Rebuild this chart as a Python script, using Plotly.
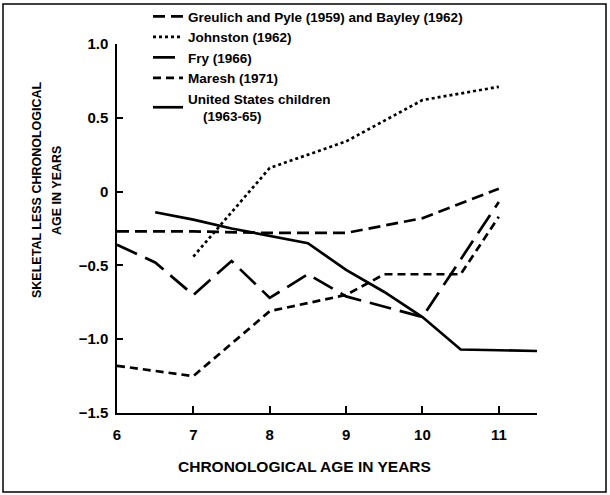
import plotly.graph_objects as go

# ---- data ----
greulich_x = [6, 7, 8, 9, 10, 11]
greulich_y = [-0.27, -0.27, -0.28, -0.28, -0.18, 0.02]

johnston_x = [7, 8, 9, 10, 11]
johnston_y = [-0.44, 0.16, 0.34, 0.62, 0.71]

fry_x = [6, 6.5, 7, 7.5, 8, 8.5, 9, 10, 11]
fry_y = [-0.36, -0.48, -0.70, -0.47, -0.72, -0.56, -0.71, -0.85, -0.07]

maresh_x = [6, 7, 8, 9, 9.5, 10, 10.5, 11]
maresh_y = [-1.18, -1.25, -0.81, -0.70, -0.56, -0.56, -0.56, -0.17]

us_x = [6.5, 7, 7.5, 8, 8.5, 9, 9.5, 10, 10.5, 11, 11.5]
us_y = [-0.14, -0.19, -0.25, -0.30, -0.35, -0.53, -0.68, -0.85, -1.07, -1.075, -1.08]

x_ticks = [6, 7, 8, 9, 10, 11]
y_ticks = [1.0, 0.5, 0, -0.5, -1.0, -1.5]
y_tick_text = ["1.0", "0.5", "0", "\u22120.5", "\u22121.0", "\u22121.5"]

FONT = "Liberation Sans, Arial, sans-serif"

fig = go.Figure()
series = [
    ("Greulich and Pyle (1959) and Bayley (1962)", greulich_x, greulich_y, "12px,6px"),
    ("Johnston (1962)", johnston_x, johnston_y, "dot"),
    ("Fry (1966)", fry_x, fry_y, "22px,9px"),
    ("Maresh (1971)", maresh_x, maresh_y, "8px,5px"),
    ("United States children<br>\u00a0\u00a0\u00a0\u00a0(1963-65)", us_x, us_y, "solid"),
]
for name, xs, ys, dash in series:
    fig.add_trace(go.Scatter(
        x=xs, y=ys, mode="lines", name=name,
        line=dict(color="black", width=2.7, dash=dash),
    ))

L, R, T, B = 117, 73, 44, 82
W, H = 610, 495
pw, ph = W - L - R, H - T - B

def px_x(p):
    return (p - L) / pw

def px_y(p):
    return (H - B - p) / ph

fig.update_layout(
    width=W, height=H,
    margin=dict(l=L, r=R, t=T, b=B, autoexpand=False),
    paper_bgcolor="white", plot_bgcolor="white",
    font=dict(family=FONT, color="black", size=14),
    showlegend=True,
    legend=dict(
        xref="paper", yref="container",
        x=px_x(148), y=1.0 - 1.0 / H, xanchor="left", yanchor="top",
        bgcolor="rgba(0,0,0,0)", borderwidth=0,
        font=dict(family=FONT, size=13.5, color="black", weight="bold"),
        itemwidth=30, tracegroupgap=0,
    ),
    xaxis=dict(
        range=[6, 11.5], tickvals=x_ticks, ticktext=[str(v) for v in x_ticks],
        showline=True, linecolor="black", linewidth=1.5,
        ticks="inside", ticklen=7, tickwidth=1.5, tickcolor="black",
        showgrid=False, zeroline=False, ticklabelstandoff=7,
        tickfont=dict(family=FONT, size=15, weight="bold"),
    ),
    yaxis=dict(
        range=[-1.5, 1.0], tickvals=y_ticks, ticktext=y_tick_text,
        showline=True, linecolor="black", linewidth=1.5,
        ticks="inside", ticklen=6, tickwidth=1.5, tickcolor="black",
        showgrid=False, zeroline=False, ticklabelstandoff=4,
        tickfont=dict(family=FONT, size=15, weight="bold"),
    ),
    annotations=[
        dict(text="SKELETAL LESS CHRONOLOGICAL",
             xref="paper", yref="paper", x=px_x(37), y=px_y(190),
             xanchor="center", yanchor="middle", textangle=-90, showarrow=False,
             font=dict(family=FONT, size=12.5, weight="bold")),
        dict(text="AGE IN YEARS",
             xref="paper", yref="paper", x=px_x(57), y=px_y(191),
             xanchor="center", yanchor="middle", textangle=-90, showarrow=False,
             font=dict(family=FONT, size=12.5, weight="bold")),
        dict(text="CHRONOLOGICAL AGE IN YEARS",
             xref="paper", yref="paper", x=px_x(304), y=px_y(466),
             xanchor="center", yanchor="middle", showarrow=False,
             font=dict(family=FONT, size=15.5, weight="bold")),
    ],
    shapes=[dict(
        type="rect", xref="paper", yref="paper",
        x0=px_x(3), x1=px_x(606), y0=px_y(492), y1=px_y(4),
        line=dict(color="black", width=1.5), fillcolor="rgba(0,0,0,0)",
        layer="below",
    )],
)

fig.write_html(
    "out.html",
    config={"displayModeBar": False},
    post_script="document.body.style.margin='0';document.body.style.padding='0';",
)
